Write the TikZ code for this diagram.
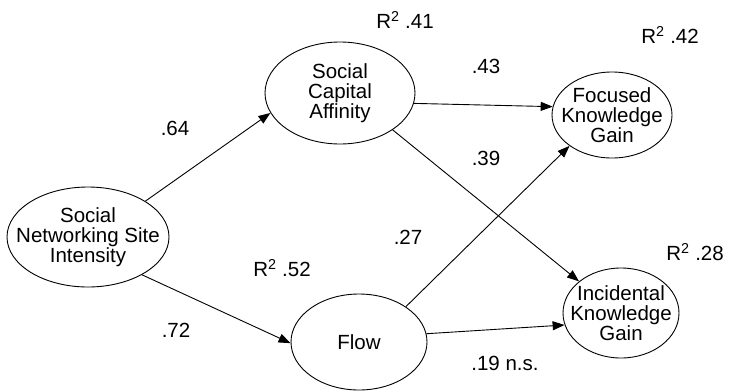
\documentclass[tikz,border=0pt]{standalone}
\usepackage{fontspec}
\setmainfont{Liberation Sans}
\usetikzlibrary{shapes.geometric,arrows.meta}
\begin{document}
\begin{tikzpicture}[x=1pt,y=-1pt,
  txt/.style={font=\fontsize{20.5}{20}\selectfont},
  latent/.style={ellipse,draw,line width=0.9pt,inner sep=0pt,
    label={[txt,align=center,inner sep=0pt]center:#1}},
  coef/.style={txt,inner sep=1pt},
  path/.style={line width=0.9pt,-{Triangle[length=12pt,width=9pt]}}]
\useasboundingbox (0,0) rectangle (730,391);
% latent variables: fixed-size ellipses with centred labels
\node[latent={Social\\Networking Site\\Intensity},minimum width=162pt,minimum height=100pt] (sns) at (88,237) {};
\node[latent={Social\\Capital\\Affinity},minimum width=150pt,minimum height=102pt] (sca) at (340,93) {};
\node[latent={Flow},minimum width=136pt,minimum height=96pt] (flow) at (359,342) {};
\node[latent={Focused\\Knowledge\\Gain},minimum width=120pt,minimum height=86pt] (fkg) at (612,115) {};
\node[latent={Incidental\\Knowledge\\Gain},minimum width=116pt,minimum height=90pt] (ikg) at (621,313) {};
% structural paths
\draw[path] (sns.32) -- (sca.196);
\draw[path] (sns.-35) -- (flow.181);
\draw[path] (sca.-8) -- (fkg.172);
\draw[path] (sca.-35) -- (ikg.143);
\draw[path] (flow.37) -- (fkg.216);
\draw[path] (flow.7) -- (ikg.192);
% coefficients and explained variance
\node[coef] (r41) at (405,20) {R\textsuperscript{2} .41};
\node[coef] (r42) at (670,35) {R\textsuperscript{2} .42};
\node[coef] (r52) at (282,268) {R\textsuperscript{2} .52};
\node[coef] (r28) at (695,252) {R\textsuperscript{2} .28};
\node[coef] (c64) at (175,128) {.64};
\node[coef] (c43) at (486,66) {.43};
\node[coef] (c39) at (486,158) {.39};
\node[coef] (c27) at (408,237) {.27};
\node[coef] (c72) at (176,330) {.72};
\node[coef] (c19) at (505,363) {.19 n.s.};
\end{tikzpicture}
\end{document}
